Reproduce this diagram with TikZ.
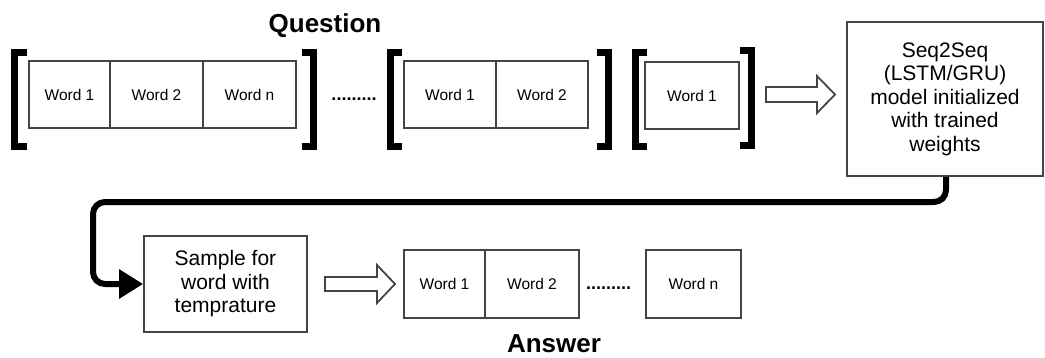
\documentclass[tikz,border=0pt]{standalone}
\usepackage{fontspec}
\setmainfont{Liberation Sans}
\usetikzlibrary{arrows.meta,calc}
\definecolor{boxgray}{HTML}{444444}
\tikzset{
  wbox/.style={draw=boxgray, line width=1.8pt, inner sep=0pt, minimum height=67pt, fill=white,
    font=\fontsize{15.5}{18}\selectfont},
  bigbox/.style={draw=boxgray, line width=1.8pt, inner sep=0pt, align=center,
    font=\fontsize{21}{23.5}\selectfont},
  brk/.style={line width=7pt, line join=miter, line cap=butt},
  hollow/.style={draw=boxgray, line width=1.8pt, fill=white, line join=miter},
  dots/.style={anchor=base, inner sep=0pt, font=\fontsize{18}{20}\selectfont\bfseries},
  title/.style={anchor=base, inner sep=0pt, font=\fontsize{26}{28}\selectfont\bfseries},
  conn/.style={line width=6pt, rounded corners=12pt, -{Triangle[length=24pt,width=28pt]}}
}
\begin{document}
\begin{tikzpicture}[x=1pt,y=-1pt]
\useasboundingbox (0,0) rectangle (1045,357);

% titles
\node[title] (q) at (325,32) {Question};
\node[title] (ans) at (554,352) {Answer};

% row 1, group 1
\node[wbox, minimum width=81pt] (a1) at (69.5,94.5) {Word 1};
\node[wbox, minimum width=93pt] (a2) at (156.5,94.5) {Word 2};
\node[wbox, minimum width=93pt] (a3) at (249.5,94.5) {Word n};
\draw[brk] (27,52.5) -- (14,52.5) -- (14,146.5) -- (27,146.5);
\draw[brk] (302,52.5) -- (313.5,52.5) -- (313.5,146.5) -- (302,146.5);
\node[dots] (d1) at (354,100) {.........};

% row 1, group 2
\node[wbox, minimum width=92pt] (b1) at (450,94.5) {Word 1};
\node[wbox, minimum width=92pt] (b2) at (542,94.5) {Word 2};
\draw[brk] (402,52.5) -- (390,52.5) -- (390,146.5) -- (402,146.5);
\draw[brk] (597,52.5) -- (608.5,52.5) -- (608.5,146.5) -- (597,146.5);

% row 1, group 3
\node[wbox, minimum width=94pt] (c1) at (692,95.5) {Word 1};
\draw[brk] (647,52.5) -- (635,52.5) -- (635,146.5) -- (647,146.5);
\draw[brk] (740,50.5) -- (751.5,50.5) -- (751.5,145.5) -- (740,145.5);

% hollow arrow 1
\draw[hollow] (766,87) -- (817,87) -- (817,76) -- (835,94.5) -- (817,113) -- (817,102) -- (766,102) -- cycle;

% seq2seq box
\node[bigbox, minimum width=196pt, minimum height=154pt] (seq) at (945,99)
  {Seq2Seq\\(LSTM/GRU)\\model initialized\\with trained\\weights};

% sample box
\node[bigbox, minimum width=163pt, minimum height=96pt] (samp) at (225.5,284)
  {Sample for\\word with\\temprature};

% connector
\coordinate (k1) at (946,202);
\coordinate (k2) at (93,202);
\coordinate (k3) at (93,284);
\draw[conn] (seq.south -| k1) -- (k1) -- (k2) -- (k3) -- (samp.west);

% hollow arrow 2
\draw[hollow] (325,277) -- (377,277) -- (377,265) -- (395,284) -- (377,303) -- (377,291) -- (325,291) -- cycle;

% answer row
\node[wbox, minimum width=81pt, minimum height=68pt] (e1) at (444.5,284) {Word 1};
\node[wbox, minimum width=94pt, minimum height=68pt] (e2) at (532,284) {Word 2};
\node[dots] (d2) at (608.5,289) {.........};
\node[wbox, minimum width=95pt, minimum height=68pt] (e3) at (693.5,284) {Word n};
\end{tikzpicture}
\end{document}
